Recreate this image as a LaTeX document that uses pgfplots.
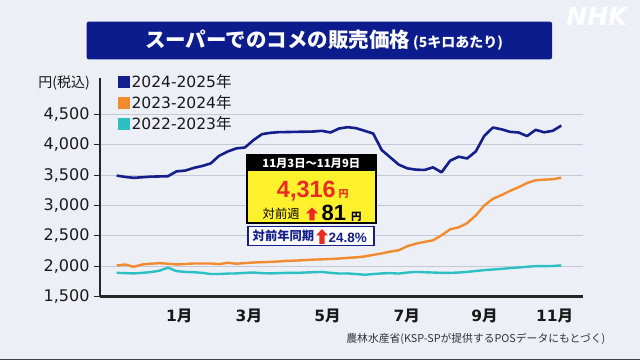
\documentclass[border=0pt]{standalone}
\usepackage{fontspec}
\usepackage{pgfplots}
\usepackage{pgfplotstable}
\pgfplotsset{compat=1.18}
\setmainfont{DejaVu Sans}
\newfontfamily\cjk{Noto Sans CJK JP}
\newfontfamily\lib{Liberation Sans}
\newcommand{\fs}[1]{\fontsize{#1bp}{#1bp}\selectfont}
\definecolor{bg}{HTML}{EDEFF7}
\definecolor{navy}{HTML}{141E8C}
\definecolor{titleblue}{HTML}{0C1C8C}
\definecolor{orng}{HTML}{F28A2E}
\definecolor{teal2}{HTML}{2CC0C2}
\definecolor{gridc}{HTML}{C5C9D6}
\definecolor{yel}{HTML}{FFF22C}
\definecolor{redc}{HTML}{EC2A24}

\pgfplotstableread{
w blue orange teal
0 3492 2011 1890
1 3470 2028 1885
2 3455 1989 1880
3 3465 2028 1890
4 3475 2040 1902
5 3478 2049 1925
6 3482 2040 1975
7 3562 2028 1918
8 3574 2035 1905
9 3618 2044 1900
10 3650 2044 1890
11 3693 2044 1870
12 3820 2033 1870
13 3890 2055 1878
14 3940 2040 1880
15 3955 2050 1890
16 4077 2060 1895
17 4175 2065 1885
18 4197 2070 1880
19 4208 2078 1885
20 4210 2087 1890
21 4213 2092 1888
22 4215 2100 1895
23 4218 2108 1900
24 4230 2112 1905
25 4202 2118 1890
26 4267 2125 1878
27 4290 2136 1880
28 4273 2145 1870
29 4230 2160 1858
30 4185 2185 1870
31 3913 2210 1880
32 3792 2240 1885
33 3672 2262 1878
34 3611 2330 1895
35 3590 2370 1905
36 3585 2400 1900
37 3628 2426 1895
38 3546 2508 1890
39 3738 2607 1890
40 3803 2640 1895
41 3775 2710 1905
42 3890 2836 1920
43 4148 3000 1935
44 4284 3110 1945
45 4255 3170 1955
46 4213 3240 1968
47 4202 3300 1978
48 4143 3370 1990
49 4246 3415 2000
50 4205 3425 2000
51 4230 3432 2003
52 4316 3458 2012
}\ricetable

\begin{document}
\begin{tikzpicture}
% background
\fill[bg] (0,0) rectangle (640bp,360bp);
\useasboundingbox (0,0) rectangle (640bp,360bp);

\begin{axis}[
  at={(100bp,63.5bp)}, anchor=south west,
  scale only axis, width=483bp, height=218.5bp,
  xmin=-1.95, xmax=54.54, ymin=1500, ymax=5100,
  axis x line*=bottom, axis y line*=left,
  x axis line style={line width=2.2bp, draw=black!85},
  y axis line style={line width=1.2bp, draw=black!85},
  ytick={1500,2000,...,4500},
  ymajorgrids, grid style={draw=gridc, line width=0.9bp},
  tick align=outside, major tick length=6bp,
  ytick style={line width=1bp, black!85},
  xtick={7.33,15.46,24.65,33.92,43.03,51.23},
  xticklabels={1{\cjk 月},3{\cjk 月},5{\cjk 月},7{\cjk 月},9{\cjk 月},11{\cjk 月}},
  xtick style={draw=none},
  xticklabel style={font=\bfseries\fs{15.5}, text=black!90, yshift=-3bp},
  yticklabel style={font=\fs{16}, text=black!90, xshift=-1bp},
  /pgf/number format/.cd, 1000 sep={,}, assume math mode=true,
  /pgfplots/.cd,
  legend style={at={(axis description cs:0.037,1.025)}, anchor=north west,
    draw=none, fill=none, font=\fs{15.5}, row sep=3.5bp, inner sep=0pt,
    nodes={inner sep=1.5bp, text=black!90}},
  legend cell align=left,
  legend image code/.code={\fill[#1, draw=none] (0bp,-6bp) rectangle (12bp,6bp);},
  clip=false,
]
\addplot[color=navy, line width=2.6bp, line join=round] table[x=w, y=blue] {\ricetable};
\addlegendentry{2024-2025{\cjk 年}}
\addplot[color=orng, line width=2.4bp, line join=round] table[x=w, y=orange] {\ricetable};
\addlegendentry{2023-2024{\cjk 年}}
\addplot[color=teal2, line width=2.4bp, line join=round] table[x=w, y=teal] {\ricetable};
\addlegendentry{2022-2023{\cjk 年}}
\end{axis}

\begin{scope}[yshift=360bp, x=1bp, y=-1bp]
  % title
  \fill[titleblue, rounded corners=2bp] (86.7,21.7) rectangle (552,59.3);
  \node[white, font=\cjk\bfseries\fs{20.5}] at (324,40.5) {スーパーでのコメの販売価格\hspace{3bp}{\fs{14}(5キロあたり)}};
  % NHK logo
  \node[white, font=\bfseries\itshape\fs{25}] at (597,16) {NHK};
  % y label
  \node[anchor=east, font=\cjk\fs{14}, text=black!90, inner sep=0pt] at (90,82.7) {円(税込)};
  % annotation box
  \fill[black] (246.2,154.5) rectangle (376.5,224);
  \fill[yel] (247.7,171.5) rectangle (375,222.5);
  \node[white, font=\cjk\bfseries\fs{11.3}] at (311.3,163) {11月3日～11月9日};
  \node[anchor=base east, text=redc, font=\lib\bfseries\fs{23.5}, inner sep=0pt] at (336,197.3) {4,316};
  \node[anchor=base west, text=redc, font=\cjk\bfseries\fs{10}, inner sep=0pt] at (338.5,197.3) {円};
  \node[anchor=west, font=\cjk\fs{12.3}, inner sep=0pt] at (262.5,213.3) {対前週};
  \fill[redc] (312,207.5) -- (318,213.5) -- (314.6,213.5) -- (314.6,220.5) -- (309.4,220.5) -- (309.4,213.5) -- (306,213.5) -- cycle;
  \node[anchor=base west, font=\lib\bfseries\fs{22}, inner sep=0pt] at (321.5,220.3) {81};
  \node[anchor=base west, font=\cjk\bfseries\fs{10.5}, inner sep=0pt] at (351,220.3) {円};
  % second box
  \filldraw[fill=white, draw=navy, line width=1.3bp] (248,226.5) rectangle (374,245.5);
  \node[anchor=west, text=navy, font=\cjk\bfseries\fs{12.3}, inner sep=0pt] at (252.5,236.3) {対前年同期};
  \fill[redc] (322,229) -- (328,235.5) -- (324.6,235.5) -- (324.6,244) -- (319.4,244) -- (319.4,235.5) -- (316,235.5) -- cycle;
  \node[anchor=base west, text=navy, font=\lib\bfseries\fs{13.5}, inner sep=0pt] at (328.5,242.3) {24.8\%};
  % source
  \node[anchor=east, font=\cjk\fs{10.8}, text=black!80, inner sep=0pt] at (605.5,339) {農林水産省(KSP-SPが提供するPOSデータにもとづく)};
  % bottom edge
  \fill[black!75] (0,358.6) rectangle (640,360);
\end{scope}
\end{tikzpicture}
\end{document}
